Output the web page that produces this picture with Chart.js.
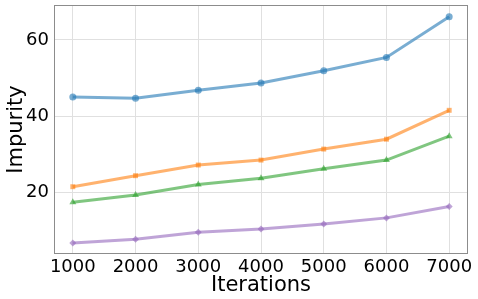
<!DOCTYPE html>
<html lang="en">
<head>
    <meta charset="UTF-8">
    <title>Impurity vs Iterations</title>
    <style>
        html, body { margin: 0; padding: 0; background: #fff; }
        #wrap { width: 478px; height: 299px; }
    </style>
</head>
<body>
    <div id="wrap"><canvas id="chart" width="478" height="299"></canvas></div>

    <script src="https://cdn.jsdelivr.net/npm/chart.js"></script>
    <script>
        const iterations = [1000, 2000, 3000, 4000, 5000, 6000, 7000];
        const blueSeries = [45.0, 44.7, 46.8, 48.7, 51.9, 55.4, 66.1];
        const orangeSeries = [21.4, 24.3, 27.1, 28.4, 31.3, 33.9, 41.5];
        const greenSeries = [17.3, 19.2, 22.0, 23.6, 26.1, 28.4, 34.7];
        const purpleSeries = [6.6, 7.6, 9.4, 10.3, 11.6, 13.2, 16.2];
        const xTicks = [1000, 2000, 3000, 4000, 5000, 6000, 7000];
        const yTicks = [20, 40, 60];

        function toPoints(values) {
            return iterations.map((x, i) => ({ x: x, y: values[i] }));
        }

        function makeSet(label, values, color, style, radius) {
            return {
                label: label,
                data: toPoints(values),
                borderColor: color,
                backgroundColor: color,
                borderWidth: 3,
                pointStyle: style,
                pointRadius: radius,
                pointBorderWidth: 0,
                tension: 0
            };
        }

        // draw the frame (spines) around the plot area
        const framePlugin = {
            id: 'frame',
            afterDraw(chart) {
                const a = chart.chartArea;
                const ctx = chart.ctx;
                ctx.save();
                ctx.strokeStyle = '#8c8c8c';
                ctx.lineWidth = 1;
                ctx.strokeRect(a.left + 0.5, a.top + 0.5, a.right - a.left - 1, a.bottom - a.top - 1);
                ctx.restore();
            }
        };

        const ctx = document.getElementById('chart').getContext('2d');
        new Chart(ctx, {
            type: 'line',
            data: {
                datasets: [
                    makeSet('A', blueSeries, 'rgba(31,119,180,0.6)', 'circle', 3.5),
                    makeSet('B', orangeSeries, 'rgba(255,127,14,0.6)', 'rect', 3.5),
                    makeSet('C', greenSeries, 'rgba(44,160,44,0.6)', 'triangle', 4),
                    makeSet('D', purpleSeries, 'rgba(148,103,189,0.6)', 'rectRot', 3.5)
                ]
            },
            options: {
                responsive: false,
                animation: false,
                layout: { padding: { top: 5, right: 10, left: 0, bottom: 0 } },
                plugins: {
                    legend: { display: false },
                    tooltip: { enabled: false }
                },
                scales: {
                    x: {
                        type: 'linear',
                        min: 700,
                        max: 7300,
                        afterBuildTicks: axis => { axis.ticks = xTicks.map(v => ({ value: v })); },
                        afterFit: axis => {
                            axis.height = 45;
                            axis.paddingLeft = 0;
                            axis.paddingRight = 0;
                        },
                        grid: { color: '#e0e0e0', drawTicks: false },
                        border: { display: false },
                        ticks: {
                            color: '#000',
                            font: { family: 'DejaVu Sans', size: 18 },
                            padding: 3,
                            maxRotation: 0,
                            callback: v => String(v)
                        },
                        title: {
                            display: true,
                            text: 'Iterations',
                            color: '#000',
                            font: { family: 'DejaVu Sans', size: 21 },
                            padding: { top: 0, bottom: 1 }
                        }
                    },
                    y: {
                        type: 'linear',
                        min: 3.7,
                        max: 69.2,
                        afterBuildTicks: axis => { axis.ticks = yTicks.map(v => ({ value: v })); },
                        afterFit: axis => {
                            axis.width = 54;
                            axis.paddingTop = 0;
                            axis.paddingBottom = 0;
                        },
                        grid: { color: '#e0e0e0', drawTicks: false },
                        border: { display: false },
                        ticks: {
                            color: '#000',
                            font: { family: 'DejaVu Sans', size: 18 },
                            padding: 5
                        },
                        title: {
                            display: true,
                            text: 'Impurity',
                            color: '#000',
                            font: { family: 'DejaVu Sans', size: 21 },
                            padding: { top: 4, bottom: 0 }
                        }
                    }
                }
            },
            plugins: [framePlugin]
        });
    </script>
</body>
</html>
